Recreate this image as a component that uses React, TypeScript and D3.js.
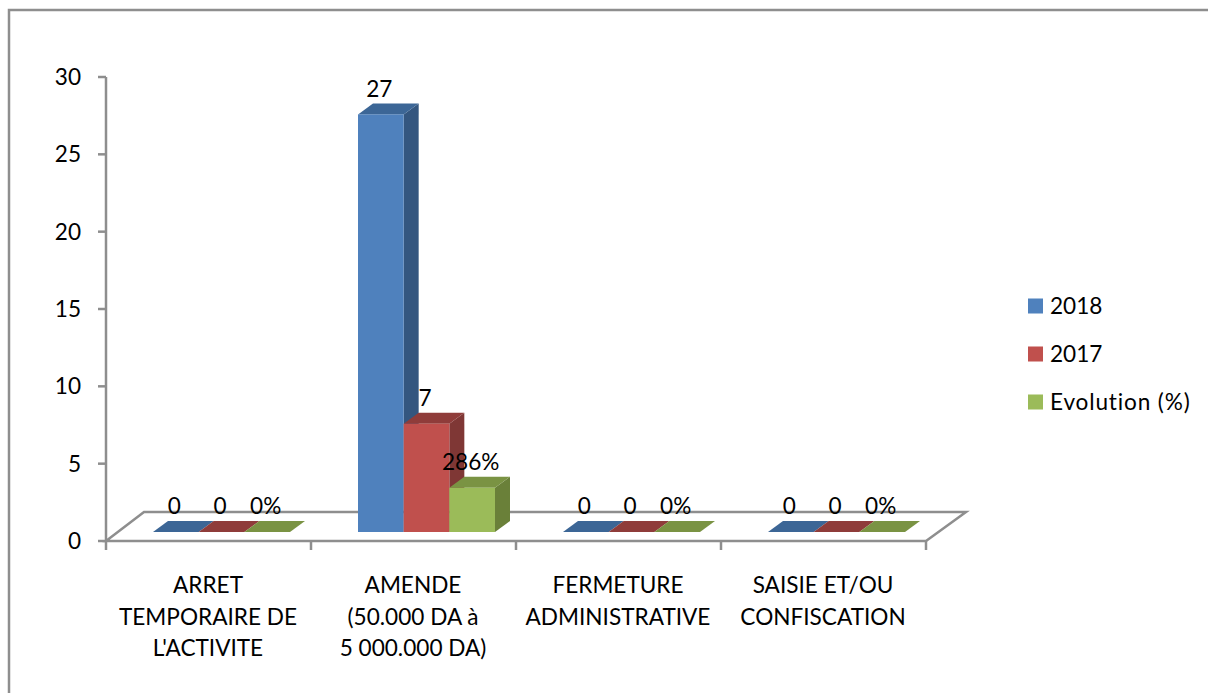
import React from "react";
import * as d3 from "d3";

const categories = ["ARRET TEMPORAIRE", "AMENDE", "FERMETURE", "SAISIE"];
const categoryLines = [
  ["ARRET", "TEMPORAIRE DE", "L'ACTIVITE"],
  ["AMENDE", "(50.000 DA à", "5 000.000 DA)"],
  ["FERMETURE", "ADMINISTRATIVE"],
  ["SAISIE ET/OU", "CONFISCATION"],
];
const seriesNames = ["2018", "2017", "Evolution (%)"];
const values2018 = [0, 27, 0, 0];
const values2017 = [0, 7, 0, 0];
const valuesEvolution = [0, 2.86, 0, 0];
const labels2018 = ["0", "27", "0", "0"];
const labels2017 = ["0", "7", "0", "0"];
const labelsEvolution = ["0%", "286%", "0%", "0%"];
const yTicks = [0, 5, 10, 15, 20, 25, 30];

const frontColors = ["#4F81BD", "#C0504D", "#9BBB59"];
const topColors = ["#3C6696", "#8F3C3A", "#7A9343"];
const sideColors = ["#34567F", "#7F3735", "#6A8039"];
const lineColor = "#8E8E8E";
const font = "Lato, Carlito, Calibri, sans-serif";
const fontSize = 22.6;

const W = 1208;
const H = 693;

const series = [values2018, values2017, valuesEvolution];
const seriesLabels = [labels2018, labels2017, labelsEvolution];

const y = d3.scaleLinear().domain([0, 30]).range([541, 77]);
const x = d3.scaleBand<string>().domain(categories).range([106, 926]);
const inner = d3.scaleBand<string>().domain(seriesNames).range([47, 184]);

const floorDrop = 9;
const depthX = 15;
const depthY = 11;
const floorX = 40;
const floorY = 29;

const poly = (pts: [number, number][]) => d3.line()(pts) + "Z";

export default function App() {
  const x0 = y.range()[0];
  const xStart = x.range()[0];
  const xEnd = x.range()[1];
  return (
    <svg
      width={W}
      height={H}
      viewBox={`0 0 ${W} ${H}`}
      style={{ position: "absolute", left: 0, top: 0, background: "#fff", fontVariantLigatures: "none" }}
      fontFamily={font}
      fontSize={fontSize}
      fill="#000"
    >
      <path d={`M9,${H}V10H${W}`} fill="none" stroke={lineColor} strokeWidth={2.5} />

      {/* floor */}
      <path
        d={`M${xStart},${x0}L${xStart + floorX - 2},${x0 - floorY}H${xEnd + floorX}L${xEnd},${x0}Z`}
        fill="#fff"
        stroke={lineColor}
        strokeWidth={2.5}
      />
      {/* y axis */}
      <line x1={xStart} x2={xStart} y1={y(30)} y2={x0} stroke={lineColor} strokeWidth={2.5} />
      {yTicks.map((t) => (
        <g key={t}>
          <line x1={xStart - 8} x2={xStart} y1={y(t)} y2={y(t)} stroke={lineColor} strokeWidth={2.5} />
          <text x={81} y={y(t)} dy="0.36em" textAnchor="end">
            {t}
          </text>
        </g>
      ))}
      {/* x ticks */}
      {[...categories.map((c) => x(c)!), xEnd].map((px) => (
        <line key={px} x1={px} x2={px} y1={x0} y2={x0 + 9} stroke={lineColor} strokeWidth={2.5} />
      ))}
      {/* category labels */}
      {categories.map((c, i) => (
        <text key={c} textAnchor="middle">
          {categoryLines[i].map((ln, j) => (
            <tspan key={j} x={x(c)! + x.bandwidth() / 2 - 0.5} y={593 + j * 31.5}>
              {ln}
            </tspan>
          ))}
        </text>
      ))}

      {/* bars */}
      {categories.map((c, ci) =>
        seriesNames.map((s, si) => {
          const left = x(c)! + inner(s)!;
          const w = inner.bandwidth();
          const right = left + w;
          const base = x0 - floorDrop;
          const top = y(series[si][ci]) - floorDrop;
          return (
            <g key={c + s}>
              <path
                d={poly([
                  [right, base],
                  [right, top],
                  [right + depthX, top - depthY],
                  [right + depthX, base - depthY],
                ])}
                fill={sideColors[si]}
              />
              <path
                d={poly([
                  [left, top],
                  [left + depthX, top - depthY],
                  [right + depthX, top - depthY],
                  [right, top],
                ])}
                fill={topColors[si]}
              />
              <rect x={left} y={top} width={w} height={base - top} fill={frontColors[si]} />
            </g>
          );
        })
      )}

      {/* data labels */}
      {categories.map((c, ci) =>
        seriesNames.map((s, si) => (
          <text
            key={c + s}
            x={x(c)! + inner(s)! + inner.bandwidth() / 2 - 1.5}
            y={y(series[si][ci]) - floorDrop - 26}
            dy="0.36em"
            textAnchor="middle"
          >
            {seriesLabels[si][ci]}
          </text>
        ))
      )}

      {/* legend */}
      {seriesNames.map((s, i) => (
        <g key={s}>
          <rect x={1028} y={298.5 + i * 48} width={15} height={15} fill={frontColors[i]} />
          <text x={1050} y={306 + i * 48} dy="0.36em" letterSpacing={s.length > 4 ? 0.85 : 0}>
            {s}
          </text>
        </g>
      ))}
    </svg>
  );
}
